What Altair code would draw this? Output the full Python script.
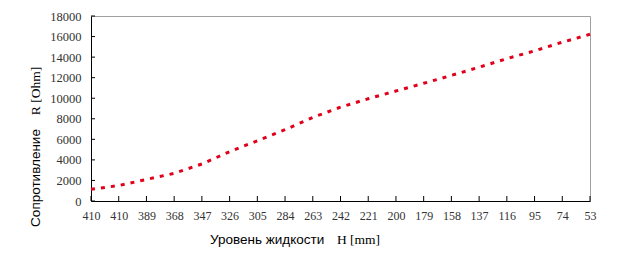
import altair as alt
import pandas as pd

# ---- data ----
level_labels = ["410", "410", "389", "368", "347", "326", "305", "284", "263", "242",
                "221", "200", "179", "158", "137", "116", "95", "74", "53"]
resistance = [1140, 1500, 2100, 2690, 3600, 4800, 5860, 6935, 8130, 9130,
              9950, 10700, 11450, 12220, 13020, 13850, 14610, 15450, 16220]
y_ticks = [0, 2000, 4000, 6000, 8000, 10000, 12000, 14000, 16000, 18000]

df = pd.DataFrame({"idx": list(range(len(level_labels))), "R": resistance})
xt = pd.DataFrame({"idx": list(range(len(level_labels)))})
yt = pd.DataFrame({"v": y_ticks})

W, H = 499, 185
label_expr = "[" + ",".join("'%s'" % s for s in level_labels) + "][datum.value]"

xscale = alt.Scale(domain=[0, len(level_labels) - 1], nice=False, zero=False)
yscale = alt.Scale(domain=[0, 18000], nice=False)

x_axis = alt.Axis(values=list(range(len(level_labels))), labelExpr=label_expr,
                  ticks=False, tickSize=0, grid=False, domainColor="#000000",
                  labelFont="Liberation Serif", labelFontSize=12, labelColor="#333333",
                  labelPadding=9, labelFlush=False, labelOverlap=False, labelBound=False,
                  title=None)
y_axis = alt.Axis(values=y_ticks, format="d", ticks=False, tickSize=0, grid=False,
                  domainColor="#000000", labelFont="Liberation Serif", labelFontSize=12.5,
                  labelColor="#333333", labelPadding=10, labelOverlap=False,
                  labelFlush=False, labelBound=False, title=None)

line = alt.Chart(df).mark_line(color="#E0001B", strokeWidth=3, strokeDash=[4, 6]).encode(
    x=alt.X("idx:Q", scale=xscale, axis=x_axis),
    y=alt.Y("R:Q", scale=yscale, axis=y_axis),
)

xticks = alt.Chart(xt).mark_rule(color="#000000", strokeWidth=1).encode(
    x=alt.X("idx:Q", scale=xscale, axis=x_axis),
    y=alt.value(H - 5), y2=alt.value(H),
)
yticks = alt.Chart(yt).mark_rule(color="#000000", strokeWidth=1).encode(
    y=alt.Y("v:Q", scale=yscale, axis=y_axis),
    x=alt.value(0), x2=alt.value(4),
)

texts = pd.DataFrame({"t": ["x"]})
xtitle1 = alt.Chart(texts).mark_text(text="Уровень жидкости", font="Liberation Sans",
                                    fontSize=13.5, align="left", baseline="middle",
                                    color="#000000").encode(
    x=alt.value(119), y=alt.value(224))
xtitle2 = alt.Chart(texts).mark_text(text="H [mm]", font="Liberation Serif",
                                    fontSize=13.5, align="left", baseline="middle",
                                    color="#000000").encode(
    x=alt.value(246), y=alt.value(224))
ytitle1 = alt.Chart(texts).mark_text(text="Сопротивление", font="Liberation Sans",
                                    fontSize=13.5, align="center", baseline="middle",
                                    angle=270, color="#000000").encode(
    x=alt.value(-55), y=alt.value(162))
ytitle2 = alt.Chart(texts).mark_text(text="R [Ohm]", font="Liberation Serif",
                                    fontSize=13.5, align="center", baseline="middle",
                                    angle=270, color="#000000").encode(
    x=alt.value(-55), y=alt.value(75))

chart = alt.layer(line, xticks, yticks, xtitle1, xtitle2, ytitle1, ytitle2).properties(
    width=W, height=H,
    autosize=alt.AutoSizeParams(type="none"),
    padding={"left": 91, "top": 16, "right": 28, "bottom": 57},
    background="#ffffff",
).configure_view(stroke="#a0a0a0", strokeWidth=1)

chart.save("out.html", embed_options={"renderer": "svg", "actions": False})
